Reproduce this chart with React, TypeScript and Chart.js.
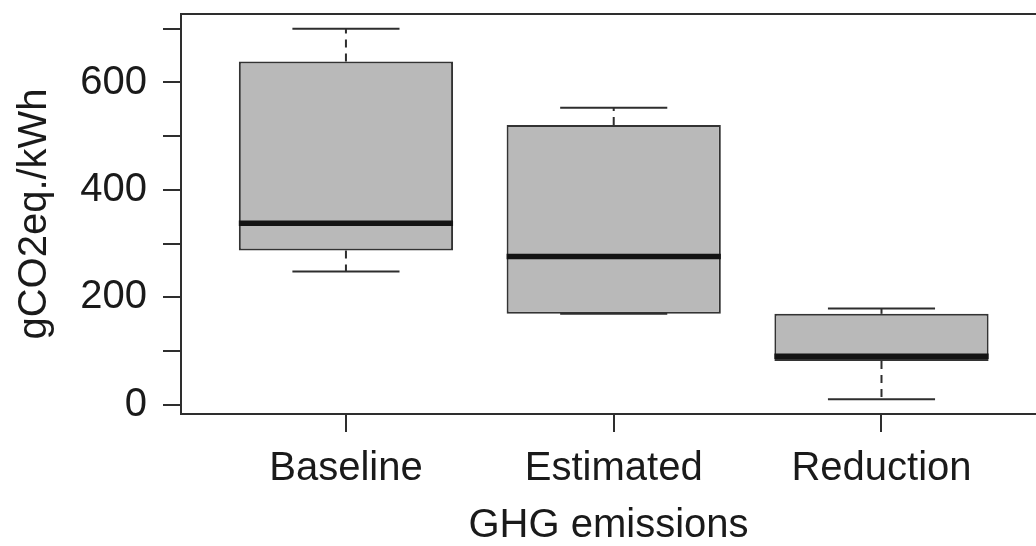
import React, { useEffect, useRef } from "react";
import { Chart, registerables } from "chart.js";

Chart.register(...registerables);

// ---- data ----
const categories = ["Baseline", "Estimated", "Reduction"];
const categoryPositions = [1, 2, 3];
const whiskerLow = [248, 169, 10];
const q1 = [287, 169, 81];
const median = [338, 276, 90];
const q3 = [639, 521, 169];
const whiskerHigh = [700, 553, 179];
const yTicks = [0, 100, 200, 300, 400, 500, 600, 700];
const yTickLabels = ["0", "", "200", "", "400", "", "600", ""];

const FONT = "'Liberation Sans', Arial, Helvetica, sans-serif";
const TEXT = "#1a1a1a";
const LINE = "#2e2e2e";

const boxPlotPlugin = {
  id: "boxWhiskers",
  afterDatasetsDraw(chart: any) {
    const { ctx, chartArea, scales } = chart;
    const x = scales.x;
    const y = scales.y;
    const meta = chart.getDatasetMeta(0);
    ctx.save();
    // top frame line
    ctx.strokeStyle = LINE;
    ctx.lineWidth = 2;
    ctx.setLineDash([]);
    ctx.beginPath();
    ctx.moveTo(chartArea.left - 1, chartArea.top);
    ctx.lineTo(chartArea.right, chartArea.top);
    ctx.stroke();

    categoryPositions.forEach((pos, i) => {
      const cx = x.getPixelForValue(pos);
      const bar = meta.data[i];
      const half = bar.width / 2;
      const capHalf = half / 2;
      ctx.strokeStyle = LINE;
      ctx.lineWidth = 2;
      // dashed whiskers
      ctx.setLineDash([8, 6]);
      if (whiskerHigh[i] > q3[i]) {
        ctx.beginPath();
        ctx.moveTo(cx, y.getPixelForValue(q3[i]));
        ctx.lineTo(cx, y.getPixelForValue(whiskerHigh[i]));
        ctx.stroke();
      }
      if (whiskerLow[i] < q1[i]) {
        ctx.beginPath();
        ctx.moveTo(cx, y.getPixelForValue(q1[i]));
        ctx.lineTo(cx, y.getPixelForValue(whiskerLow[i]));
        ctx.stroke();
      }
      ctx.setLineDash([]);
      // staples
      [whiskerHigh[i], whiskerLow[i]].forEach((v) => {
        const py = y.getPixelForValue(v);
        ctx.beginPath();
        ctx.moveTo(cx - capHalf, py);
        ctx.lineTo(cx + capHalf, py);
        ctx.stroke();
      });
      // median
      ctx.strokeStyle = "#141414";
      ctx.lineWidth = 5.5;
      const my = y.getPixelForValue(median[i]);
      ctx.beginPath();
      ctx.moveTo(cx - half, my);
      ctx.lineTo(cx + half, my);
      ctx.stroke();
    });
    ctx.restore();
  },
};

export default function App() {
  const ref = useRef<HTMLCanvasElement | null>(null);

  useEffect(() => {
    document.body.style.margin = "0";
    if (!ref.current) return;
    const chart = new Chart(ref.current, {
      type: "bar",
      data: {
        datasets: [
          {
            data: categoryPositions.map((p, i) => ({ x: p, y: [q1[i], q3[i]] })) as any,
            backgroundColor: "#b9b9b9",
            borderColor: "#333333",
            borderWidth: 2,
            borderSkipped: false,
            barPercentage: 0.8,
            categoryPercentage: 1,
          },
        ],
      },
      options: {
        responsive: false,
        animation: false,
        events: [],
        layout: { padding: { top: 14, left: 0, right: 0, bottom: 0 } },
        plugins: { legend: { display: false }, tooltip: { enabled: false } },
        scales: {
          x: {
            type: "linear",
            offset: false,
            min: 0.384,
            max: 3.577,
            afterBuildTicks: (axis: any) => {
              axis.ticks = categoryPositions.map((v) => ({ value: v }));
            },
            afterFit: (axis: any) => {
              axis.height = 132;
              axis.paddingLeft = 0;
              axis.paddingRight = 0;
            },
            grid: {
              display: true,
              offset: false,
              drawOnChartArea: false,
              drawTicks: true,
              tickLength: 18,
              tickColor: LINE,
              tickWidth: 2,
              lineWidth: 2,
            },
            border: { display: true, color: LINE, width: 2 },
            ticks: {
              autoSkip: false,
              maxRotation: 0,
              padding: 13,
              color: TEXT,
              font: { family: FONT, size: 40 },
              callback: (v: any) => categories[categoryPositions.indexOf(Number(v))] ?? "",
            },
            title: {
              display: true,
              text: "GHG emissions",
              color: TEXT,
              font: { family: FONT, size: 40, lineHeight: 1 },
              padding: { top: 0, bottom: 0 },
            },
          },
          y: {
            type: "linear",
            min: -17.6,
            max: 727.6,
            afterBuildTicks: (axis: any) => {
              axis.ticks = yTicks.map((v) => ({ value: v }));
            },
            afterFit: (axis: any) => {
              axis.width = 181;
              axis.paddingTop = 0;
              axis.paddingBottom = 0;
            },
            grid: {
              display: true,
              drawOnChartArea: false,
              drawTicks: true,
              tickLength: 18,
              tickColor: LINE,
              tickWidth: 2,
              lineWidth: 2,
            },
            border: { display: true, color: LINE, width: 2 },
            ticks: {
              autoSkip: false,
              padding: 16,
              color: TEXT,
              font: { family: FONT, size: 40 },
              callback: (v: any) => {
                const idx = yTicks.indexOf(Number(v));
                return idx >= 0 ? yTickLabels[idx] : "";
              },
            },
            title: {
              display: true,
              text: "gCO2eq./kWh",
              color: TEXT,
              font: { family: FONT, size: 40, lineHeight: 1 },
              padding: { top: 15, bottom: 0 },
            },
          },
        },
      },
      plugins: [boxPlotPlugin],
    });
    return () => chart.destroy();
  }, []);

  return (
    <div style={{ position: "absolute", left: 0, top: 0, width: 1036, height: 546, background: "#fff" }}>
      <canvas ref={ref} width={1036} height={546} style={{ display: "block" }} />
    </div>
  );
}
